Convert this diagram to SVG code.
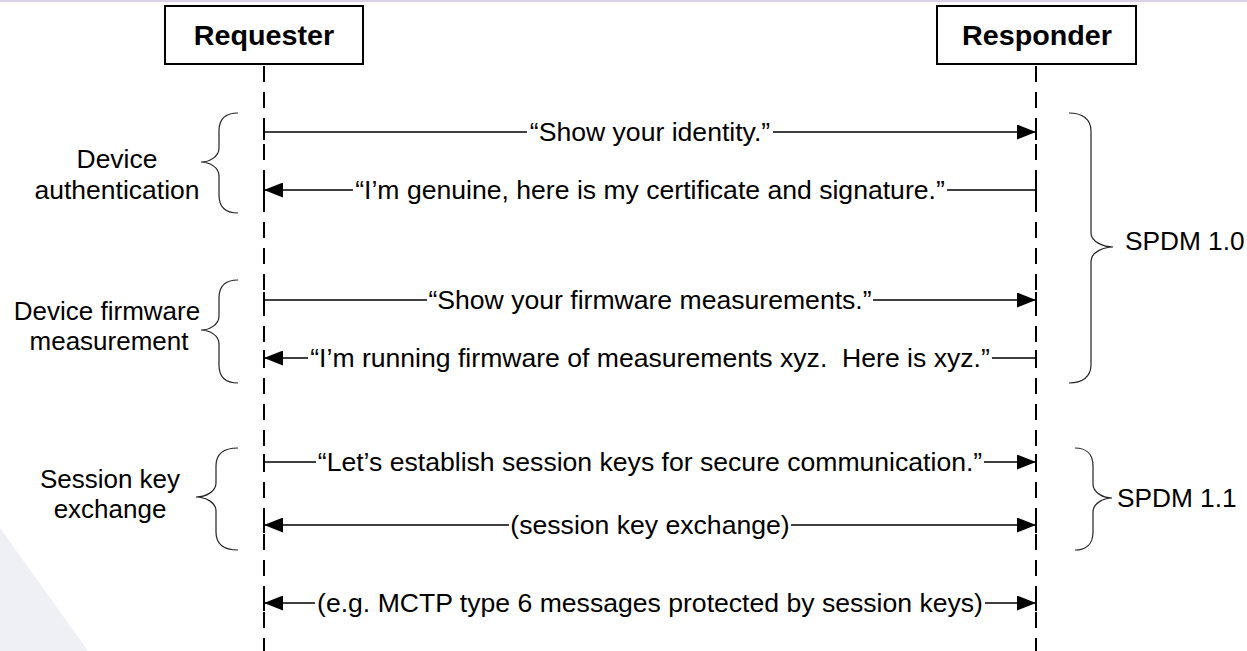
<svg xmlns="http://www.w3.org/2000/svg" width="1247" height="651" viewBox="0 0 1247 651">
<style>
.bg{fill:#ffffff}
.deco{fill:#eef0f5}
.topbar{fill:#d9d2e6}
.box{fill:#ffffff;stroke:#000;stroke-width:2}
.life{stroke:#000;stroke-width:2;stroke-dasharray:16 10;fill:none}
.msg{stroke:#000;stroke-width:1.6;fill:none}
.tick{stroke:#000;stroke-width:2}
.brace{stroke:#222;stroke-width:1.2;fill:none}
.t{font-family:"Liberation Sans",Arial,sans-serif;font-size:25px;fill:#000}
.tb{font-family:"Liberation Sans",Arial,sans-serif;font-size:27px;font-weight:bold;fill:#000}
.mid{text-anchor:middle}
</style>
<defs>
<marker id="ah" markerUnits="userSpaceOnUse" markerWidth="19" markerHeight="15" refX="19" refY="7.5" orient="auto">
<path d="M0,0 L19,7.5 L0,15 z" fill="#000"/>
</marker>
</defs>
<rect class="bg" x="0" y="0" width="1247" height="651"/>
<polygon class="deco" points="0,528 88,651 0,651"/>
<rect class="topbar" x="0" y="0" width="1247" height="2"/>

<g id="requester">
<rect class="box" x="165" y="6" width="198" height="58"/>
<text class="tb mid" transform="translate(264,45) scale(1.063,1)">Requester</text>
<line class="life" x1="264" y1="66" x2="264" y2="651"/>
</g>
<g id="responder">
<rect class="box" x="937" y="6" width="199" height="58"/>
<text class="tb mid" transform="translate(1037,45) scale(1.063,1)">Responder</text>
<line class="life" x1="1036" y1="66" x2="1036" y2="651"/>
</g>

<g id="connectors">
<line class="msg" x1="264" y1="132" x2="527" y2="132"/>
<line class="msg" x1="773" y1="132" x2="1036" y2="132" marker-end="url(#ah)"/>
<line class="msg" x1="353" y1="190" x2="264" y2="190" marker-end="url(#ah)"/>
<line class="msg" x1="947" y1="190" x2="1036" y2="190"/>
<line class="msg" x1="264" y1="300" x2="427" y2="300"/>
<line class="msg" x1="873" y1="300" x2="1036" y2="300" marker-end="url(#ah)"/>
<line class="msg" x1="308" y1="358" x2="264" y2="358" marker-end="url(#ah)"/>
<line class="msg" x1="992" y1="358" x2="1036" y2="358"/>
<line class="msg" x1="264" y1="462" x2="316" y2="462"/>
<line class="msg" x1="984" y1="462" x2="1036" y2="462" marker-end="url(#ah)"/>
<line class="msg" x1="509" y1="525" x2="264" y2="525" marker-end="url(#ah)"/>
<line class="msg" x1="791" y1="525" x2="1036" y2="525" marker-end="url(#ah)"/>
<line class="msg" x1="315" y1="603" x2="264" y2="603" marker-end="url(#ah)"/>
<line class="msg" x1="985" y1="603" x2="1036" y2="603" marker-end="url(#ah)"/>
<g class="tick">
<line x1="264" y1="124" x2="264" y2="140"/><line x1="1036" y1="124" x2="1036" y2="140"/>
<line x1="264" y1="182" x2="264" y2="198"/><line x1="1036" y1="182" x2="1036" y2="198"/>
<line x1="264" y1="292" x2="264" y2="308"/><line x1="1036" y1="292" x2="1036" y2="308"/>
<line x1="264" y1="350" x2="264" y2="366"/><line x1="1036" y1="350" x2="1036" y2="366"/>
<line x1="264" y1="454" x2="264" y2="470"/><line x1="1036" y1="454" x2="1036" y2="470"/>
<line x1="264" y1="517" x2="264" y2="533"/><line x1="1036" y1="517" x2="1036" y2="533"/>
<line x1="264" y1="595" x2="264" y2="611"/><line x1="1036" y1="595" x2="1036" y2="611"/>
</g>
</g>

<g id="messages">
<text class="t mid" transform="translate(650,141) scale(1.064,1)">“Show your identity.”</text>
<text class="t mid" transform="translate(650,199) scale(1.064,1)">“I’m genuine, here is my certificate and signature.”</text>
<text class="t mid" transform="translate(650,309) scale(1.064,1)">“Show your firmware measurements.”</text>
<text class="t mid" transform="translate(650,367) scale(1.064,1)" xml:space="preserve">“I’m running firmware of measurements xyz.  Here is xyz.”</text>
<text class="t mid" transform="translate(650,471) scale(1.064,1)">“Let’s establish session keys for secure communication.”</text>
<text class="t mid" transform="translate(650,534) scale(1.064,1)">(session key exchange)</text>
<text class="t mid" transform="translate(650,612) scale(1.064,1)">(e.g. MCTP type 6 messages protected by session keys)</text>
</g>

<g id="device-authentication">
<path class="brace" d="M238,113 C226,113 219,119 219,131 L219,148 C219,157 209,162 201,162 C209,162 219,167 219,176 L219,195 C219,207 226,213 238,213"/>
<text class="t mid" transform="translate(117,168) scale(1.06,1)">Device</text>
<text class="t mid" transform="translate(117,199) scale(1.06,1)">authentication</text>
</g>
<g id="device-firmware-measurement">
<path class="brace" d="M238,280 C226,280 219,286 219,298 L219,316 C219,325 209,330 201,330 C209,330 219,335 219,344 L219,365 C219,377 226,383 238,383"/>
<text class="t mid" transform="translate(107,320) scale(1.04,1)">Device firmware</text>
<text class="t mid" transform="translate(109,350) scale(1.04,1)">measurement</text>
</g>
<g id="session-key-exchange">
<path class="brace" d="M238,448 C224,448 216,454 216,466 L216,483 C216,492 205,497 196,497 C205,497 216,502 216,511 L216,532 C216,544 224,550 238,550"/>
<text class="t mid" transform="translate(110,488) scale(1.04,1)">Session key</text>
<text class="t mid" transform="translate(110,518) scale(1.04,1)">exchange</text>
</g>
<g id="spdm-10">
<path class="brace" d="M1069,113 C1082,113 1091,119 1091,131 L1091,233 C1091,242 1104,247 1113,247 C1104,247 1091,252 1091,261 L1091,365 C1091,377 1082,383 1069,383"/>
<text class="t" transform="translate(1125,250) scale(1.05,1)">SPDM 1.0</text>
</g>
<g id="spdm-11">
<path class="brace" d="M1075,448 C1086,448 1093,454 1093,466 L1093,484 C1093,493 1104,498 1112,498 C1104,498 1093,503 1093,512 L1093,532 C1093,544 1086,550 1075,550"/>
<text class="t" transform="translate(1117,507) scale(1.05,1)">SPDM 1.1</text>
</g>
</svg>
